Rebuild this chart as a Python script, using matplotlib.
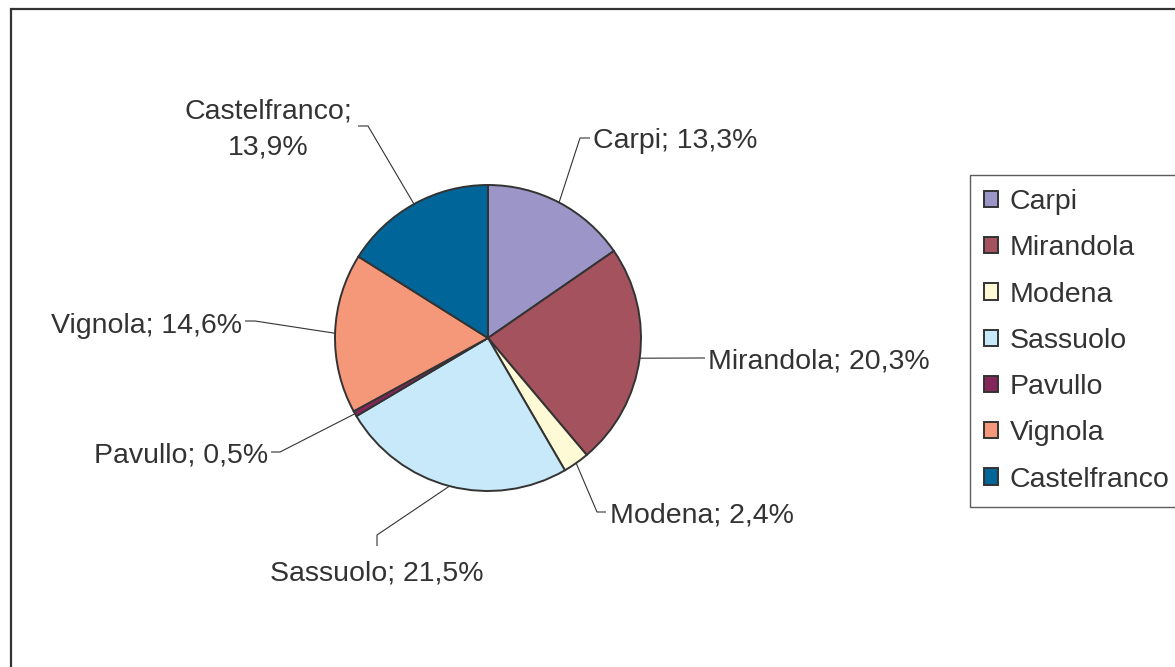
import matplotlib
matplotlib.use("Agg")
from matplotlib import pyplot as plt
from matplotlib.patches import Rectangle
import numpy as np

# data
towns = ["Carpi", "Mirandola", "Modena", "Sassuolo", "Pavullo", "Vignola", "Castelfranco"]
shares = [13.3, 20.3, 2.4, 21.5, 0.5, 14.6, 13.9]
labels = ["Carpi; 13,3%", "Mirandola; 20,3%", "Modena; 2,4%", "Sassuolo; 21,5%",
          "Pavullo; 0,5%", "Vignola; 14,6%", "Castelfranco;\n13,9%"]
colors = ["#9c95c8", "#a5525f", "#fffad6", "#c8e9f9", "#85265a", "#f59779", "#00669a"]

W, H = 1175, 667
TXT = "#333333"
plt.rcParams['font.family'] = ['Liberation Sans', 'DejaVu Sans']

fig = plt.figure(figsize=(W / 100, H / 100), dpi=100)
ax = fig.add_axes([0, 0, 1, 1])

cx, cy, r = 488, H - 338, 153
wedges, _ = ax.pie(shares, colors=colors, startangle=90, counterclock=False,
                   center=(cx, cy), radius=r,
                   wedgeprops=dict(edgecolor="#333333", linewidth=1.4))

# label layout (pixel coords, y from top): elbow, tick end, text pos, ha
layout = [
    ((580, 138), (590, 138), (593, 148), "left"),
    ((700, 358), (705, 358), (708, 369), "left"),
    ((597, 512), (606, 512), (610, 523), "left"),
    ((377, 535), (377, 546), (377, 580), "center"),
    ((280, 452), (271, 452), (268, 462), "right"),
    ((255, 321), (245, 321), (242, 333), "right"),
    ((368, 126), (358, 126), (268, 154), "center"),
]

for w, lab, (elb, tick, tp, ha) in zip(wedges, labels, layout):
    mid = np.deg2rad((w.theta1 + w.theta2) / 2)
    x0 = cx + r * np.cos(mid)
    y0 = cy + r * np.sin(mid)
    ax.plot([x0, elb[0], tick[0]], [y0, H - elb[1], H - tick[1]],
            color="#333333", lw=0.8, solid_capstyle="butt")
    ax.text(tp[0], H - tp[1], lab, ha=ha, va="baseline", fontsize=20.5,
            color=TXT, linespacing=1.5, multialignment="center")

ax.set_xlim(0, W)
ax.set_ylim(0, H)
ax.set_aspect("equal")
ax.axis("off")

# outer chart frame (right / bottom edges fall outside the picture)
fig.patches.append(Rectangle((10.5 / W, 0 - 0.1), (W + 20) / W, (H - 9) / H + 0.1,
                             transform=fig.transFigure, fill=False,
                             edgecolor="#333333", linewidth=1.6))

leg = fig.legend(wedges, towns, loc="upper left",
                 bbox_to_anchor=(970 / W, 1 - 175 / H), bbox_transform=fig.transFigure,
                 borderaxespad=0, fontsize=20.5, frameon=True, fancybox=False,
                 handlelength=0.5, handleheight=0.5, handletextpad=0.4,
                 labelspacing=0.71, borderpad=0.5)
leg.get_frame().set_edgecolor("#333333")
leg.get_frame().set_linewidth(1.0)
for t in leg.get_texts():
    t.set_color(TXT)

fig.savefig("out.png", dpi=100)
